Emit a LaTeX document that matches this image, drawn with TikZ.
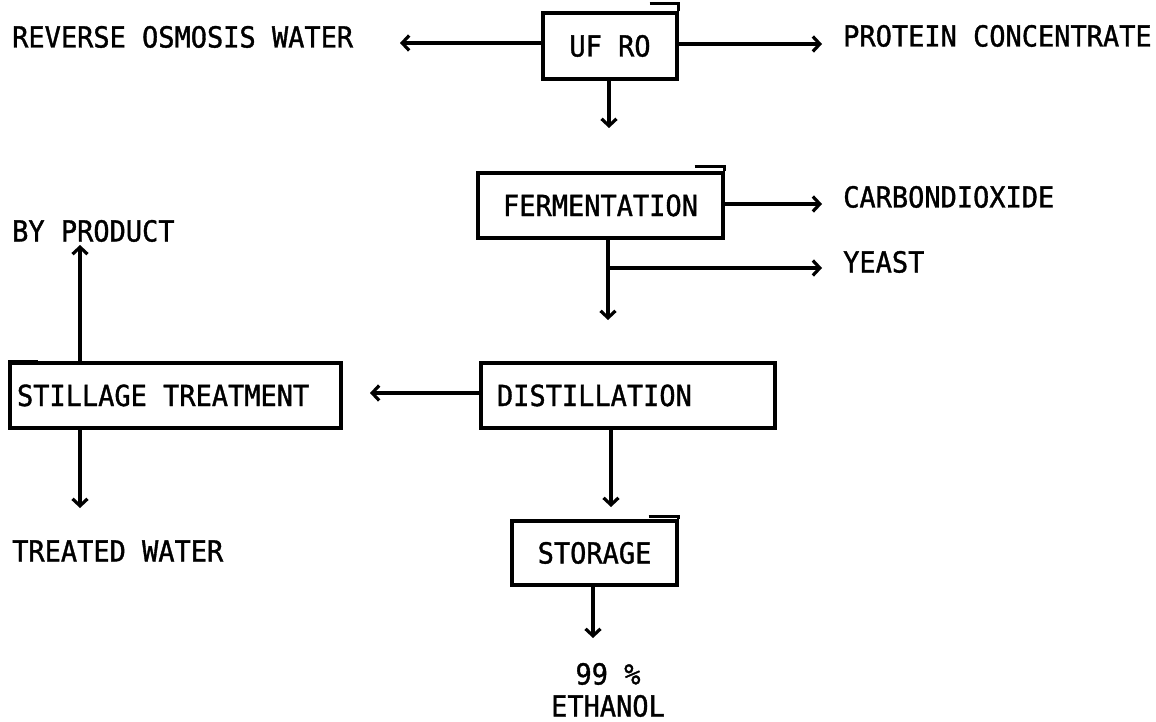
\documentclass[tikz,border=0pt]{standalone}
\usepackage{fontspec}
\newfontfamily\labelfont{DejaVu Sans Mono}[FakeStretch=0.93, FakeBold=1.2]
\usetikzlibrary{arrows.meta}
\begin{document}
\begin{tikzpicture}[x=1pt,y=-1pt,
  every node/.style={font=\labelfont\fontsize{29}{35}\selectfont, inner sep=0pt,
                     text height=21pt, text depth=0pt},
  stage/.style={draw, line width=3.4pt, rectangle},
  flow/.style={line width=3.2pt, -{Straight Barb[length=7pt,width=15pt,line width=3.2pt]}},
  lbl/.style={anchor=west},
  tick/.style={line width=3.2pt}]
  \useasboundingbox (0,0) rectangle (1156,722);

  % process stages
  \node[stage, minimum width=134pt, minimum height=66pt] (ufro) at (610,46) {UF RO};
  \node[stage, minimum width=245pt, minimum height=65pt] (ferm) at (600.5,205.5) {FERMENTATION};
  \node[stage, minimum width=294pt, minimum height=65pt, text width=262pt,
        inner xsep=16pt, align=flush left] (dist) at (628,395.5) {DISTILLATION};
  \node[stage, minimum width=331pt, minimum height=65pt, text width=317pt,
        inner xsep=7pt, align=flush left] (still) at (175.5,395.5) {STILLAGE TREATMENT};
  \node[stage, minimum width=165pt, minimum height=64pt] (store) at (594.5,553) {STORAGE};

  % small overstrokes at box corners
  \draw[tick] ([xshift=-29pt,yshift=8pt]ufro.north east) -- ([yshift=8pt]ufro.north east)
              -- (ufro.north east);
  \draw[tick] ([xshift=-30pt,yshift=5pt]ferm.north east) -- ([yshift=5pt]ferm.north east)
              -- (ferm.north east);
  \draw[tick] ([xshift=-30pt,yshift=3pt]store.north east) -- ([yshift=3pt]store.north east)
              -- (store.north east);
  \draw[tick] (still.north west) -- ([xshift=30pt]still.north west);

  % products
  \node[lbl] (row) at (12,37) {REVERSE OSMOSIS WATER};
  \node[lbl] (prot) at (843,36) {PROTEIN CONCENTRATE};
  \node[lbl] (co2) at (843,197) {CARBONDIOXIDE};
  \node[lbl] (yeast) at (843,262) {YEAST};
  \node[lbl] (byp) at (12,231) {BY PRODUCT};
  \node[lbl] (tw) at (12,551) {TREATED WATER};
  \node[align=center] (eth) at (608,706) {99 \%\\[-3pt]ETHANOL};

  % arrow ends
  \coordinate (rowtip) at (400,43);
  \coordinate (prottip) at (822,44);
  \coordinate (ufdown) at (609,128);
  \coordinate (co2tip) at (822,204);
  \coordinate (fermdown) at (608,320);
  \coordinate (yeastfork) at (608,268);
  \coordinate (yeasttip) at (822,268);
  \coordinate (distleft) at (370,393);
  \coordinate (bytip) at (80,245);
  \coordinate (twtip) at (80,508);
  \coordinate (distdown) at (611,507);
  \coordinate (ethtip) at (593,638);

  % flows
  \draw[flow] (rowtip -| ufro.west) -- (rowtip);
  \draw[flow] (prottip -| ufro.east) -- (prottip);
  \draw[flow] (ufdown |- ufro.south) -- (ufdown);
  \draw[flow] (co2tip -| ferm.east) -- (co2tip);
  \draw[flow] (fermdown |- ferm.south) -- (fermdown);
  \draw[flow] (yeastfork) -- (yeasttip);
  \draw[flow] (distleft -| dist.west) -- (distleft);
  \draw[flow] (bytip |- still.north) -- (bytip);
  \draw[flow] (twtip |- still.south) -- (twtip);
  \draw[flow] (distdown |- dist.south) -- (distdown);
  \draw[flow] (ethtip |- store.south) -- (ethtip);
\end{tikzpicture}
\end{document}
